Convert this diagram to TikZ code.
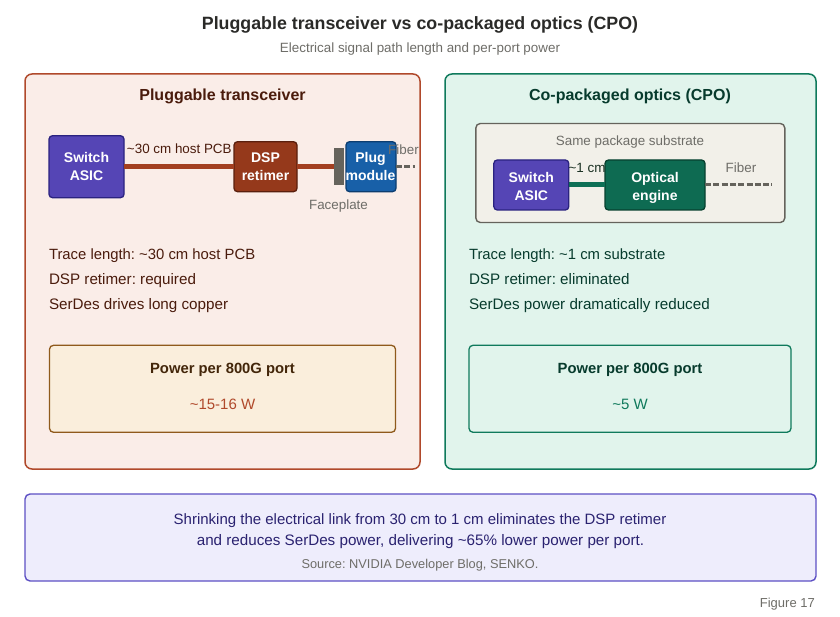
\documentclass[tikz,border=0pt]{standalone}
\usepackage{fontspec}
\setmainfont{Liberation Sans}
\frenchspacing
\definecolor{pinkfill}{HTML}{FAEDE8}
\definecolor{pinkline}{HTML}{B0492B}
\definecolor{greenfill}{HTML}{E1F4EC}
\definecolor{greenline}{HTML}{0F7A5C}
\definecolor{lilacfill}{HTML}{EEEDFC}
\definecolor{lilacline}{HTML}{5D50C4}
\definecolor{sandfill}{HTML}{FAEEDC}
\definecolor{sandline}{HTML}{8F5A1C}
\definecolor{subfill}{HTML}{F2F0E9}
\definecolor{subline}{HTML}{65635C}
\definecolor{asicfill}{HTML}{5545B5}
\definecolor{asicline}{HTML}{2A2280}
\definecolor{dspfill}{HTML}{95391B}
\definecolor{dspline}{HTML}{5A1F0D}
\definecolor{plugfill}{HTML}{1860A8}
\definecolor{plugline}{HTML}{0C3D70}
\definecolor{optfill}{HTML}{0E6B52}
\definecolor{optline}{HTML}{07402F}
\definecolor{linkred}{HTML}{A33F20}
\definecolor{linkgreen}{HTML}{0E7056}
\definecolor{inkdark}{HTML}{2A2A28}
\definecolor{inkgray}{HTML}{6E6D68}
\definecolor{inkbrown}{HTML}{4A1B0C}
\definecolor{inkgreen}{HTML}{073B2D}
\definecolor{inkblue}{HTML}{2A2270}
\definecolor{inksand}{HTML}{43260A}
\newcommand{\fs}[1]{\fontsize{#1}{#1}\selectfont}
\tikzset{
  x=1pt,y=-1pt,
  box/.style 2 args={minimum width=#1pt,minimum height=#2pt,inner sep=0pt,outer sep=0pt,align=center},
  panel/.style={rounded corners=7pt,line width=1.5pt},
  chip/.style={rounded corners=3.5pt,line width=1.3pt,text=white,align=center},
  chiptxt/.style={inner sep=0pt,outer sep=0pt,anchor=base,text=white,font=\fs{14}\bfseries},
  lbl/.style={inner sep=0pt,outer sep=0pt,anchor=base},
  bodytxt/.style={inner sep=0pt,outer sep=0pt,anchor=base west,font=\fs{15.2}},
  link/.style={line width=5pt},
  fiber/.style={line width=3pt,draw=subline,dash pattern=on 6pt off 2.3pt},
}
\begin{document}
\begin{tikzpicture}
\useasboundingbox (0,0) rectangle (840,617);
\fill[white] (0,0) rectangle (840,617);
\node[lbl,font=\fs{17.8}\bfseries,text=inkdark] (title) at (420,29.7) {Pluggable transceiver vs co-packaged optics (CPO)};
\node[lbl,font=\fs{13.4},text=inkgray] (sub) at (420,52.6) {Electrical signal path length and per-port power};
% left panel
\node[box={395}{395},panel,draw=pinkline,fill=pinkfill] (lp) at (222.5,271.5) {};
\node[lbl,font=\fs{16}\bfseries,text=inkbrown] (lt) at (222.5,101) {Pluggable transceiver};
\node[box={75}{62},chip,draw=asicline,fill=asicfill] (a1) at (86.5,166.7) {};
\node[box={63}{50},chip,draw=dspline,fill=dspfill] (d1) at (265.5,166.7) {};
\node[box={50}{50},chip,draw=plugline,fill=plugfill] (p1) at (371,166.7) {};
\node[box={10}{37},fill=subline] (fp) at (338.7,166.7) {};
\draw[link,draw=linkred] (a1.east) -- (d1.west);
\draw[link,draw=linkred] (d1.east) -- (fp.west);
\coordinate (f1) at (415,166.7);
\draw[fiber] (p1.east) -- (f1);
\node[chiptxt] at (86.5,163) {Switch};
\node[chiptxt] at (86.5,180.5) {ASIC};
\node[chiptxt] at (265.5,163) {DSP};
\node[chiptxt] at (265.5,180.5) {retimer};
\node[chiptxt] at (370.5,163) {Plug};
\node[chiptxt] at (370.5,180.5) {module};
\node[lbl,font=\fs{13.4},text=inkbrown] (l30) at (179.3,154) {\textasciitilde30 cm host PCB};
\node[lbl,font=\fs{13.4},text=inkgray] (lf1) at (403.5,154.5) {Fiber};
\node[lbl,font=\fs{13.4},text=inkgray] (lfp) at (338.5,210) {Faceplate};
\node[bodytxt,font=\fs{14.85},text=inkbrown] (t1) at (49,259.3) {Trace length: \textasciitilde30 cm host PCB};
\node[bodytxt,text=inkbrown] (t2) at (49,284.3) {DSP retimer: required};
\node[bodytxt,text=inkbrown] (t3) at (49,309) {SerDes drives long copper};
\node[box={346}{87},rounded corners=4pt,line width=1.3pt,draw=sandline,fill=sandfill] (pw1) at (222.5,388.8) {};
\node[lbl,font=\fs{14.8}\bfseries,text=inksand] (pt1) at (222.5,373) {Power per 800G port};
\node[lbl,font=\fs{15},text=pinkline] (pv1) at (222.5,409.5) {\textasciitilde15-16 W};
% right panel
\node[box={371}{395},panel,draw=greenline,fill=greenfill] (rp) at (630.5,271.5) {};
\node[lbl,font=\fs{16}\bfseries,text=inkgreen] (rt) at (630,101) {Co-packaged optics (CPO)};
\node[box={309}{99},rounded corners=4.5pt,line width=1.4pt,draw=subline,fill=subfill] (sb) at (630.3,173) {};
\node[lbl,font=\fs{13.4},text=inkgray] (sbt) at (630,146) {Same package substrate};
\node[box={75}{50},chip,draw=asicline,fill=asicfill] (a2) at (531.3,185) {};
\node[box={100}{50},chip,draw=optline,fill=optfill] (o2) at (655,185) {};
\draw[link,draw=linkgreen] (a2.east) -- (o2.west);
\coordinate (f2) at (772,185);
\draw[fiber] (o2.east) -- (f2);
\node[chiptxt] at (531.3,183) {Switch};
\node[chiptxt] at (531.3,200.5) {ASIC};
\node[chiptxt] at (655,183) {Optical};
\node[chiptxt] at (655,200.5) {engine};
\node[lbl,font=\fs{13.4},text=inkbrown!30!inkgreen] (l1) at (587,173) {\textasciitilde1 cm};
\node[lbl,font=\fs{13.4},text=inkgray] (lf2) at (741,172.5) {Fiber};
\node[bodytxt,font=\fs{14.85},text=inkgreen] (t4) at (469,259.3) {Trace length: \textasciitilde1 cm substrate};
\node[bodytxt,text=inkgreen] (t5) at (469,284.3) {DSP retimer: eliminated};
\node[bodytxt,text=inkgreen] (t6) at (469,309) {SerDes power dramatically reduced};
\node[box={322}{87},rounded corners=4pt,line width=1.3pt,draw=greenline,fill=greenfill] (pw2) at (630,388.8) {};
\node[lbl,font=\fs{14.8}\bfseries,text=inkgreen] (pt2) at (630,373) {Power per 800G port};
\node[lbl,font=\fs{15},text=greenline] (pv2) at (630,409.5) {\textasciitilde5 W};
% bottom
\node[box={791}{87},rounded corners=5pt,line width=1.4pt,draw=lilacline,fill=lilacfill] (bt) at (420.5,537.5) {};
\node[lbl,font=\fs{15},text=inkblue] (b1) at (420,524) {Shrinking the electrical link from 30 cm to 1 cm eliminates the DSP retimer};
\node[lbl,font=\fs{15.2},text=inkblue] (b2) at (420.5,545) {and reduces SerDes power, delivering \textasciitilde65\% lower power per port.};
\node[lbl,font=\fs{12.8},text=inkgray] (b3) at (420,568) {Source: NVIDIA Developer Blog, SENKO.};
\node[inner sep=0pt,anchor=base east,font=\fs{13},text=inkgray] (fig) at (815,607.5) {Figure 17};
\end{tikzpicture}
\end{document}
